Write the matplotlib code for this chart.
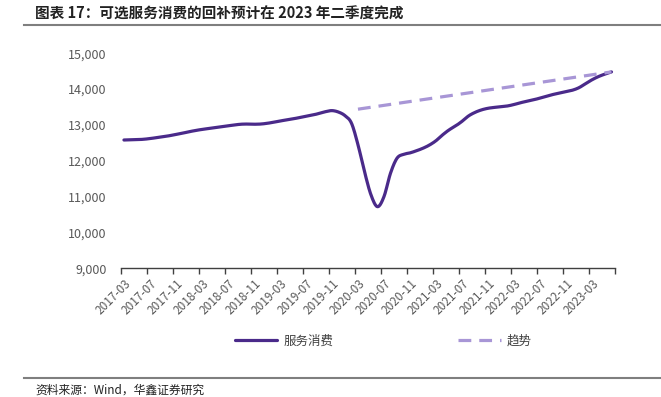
import numpy as np
import matplotlib
matplotlib.use('Agg')
import matplotlib.pyplot as plt
from matplotlib.lines import Line2D

plt.rcParams['font.family'] = ['Noto Sans CJK SC', 'DejaVu Sans']

# 服务消费, monthly from 2017-03 to 2023-06
service = [
    12580, 12585, 12590, 12600, 12620, 12645, 12670, 12700, 12735, 12770,
    12810, 12845, 12875, 12900, 12925, 12950, 12975, 13000, 13020, 13025,
    13020, 13025, 13045, 13075, 13110, 13140, 13170, 13205, 13240, 13275,
    13320, 13370, 13400, 13360, 13260, 13050, 12450, 11700, 11050, 10720,
    11000, 11650, 12070, 12180, 12220, 12280, 12350, 12440, 12560, 12720,
    12860, 12970, 13100, 13250, 13350, 13420, 13465, 13490, 13510, 13530,
    13570, 13620, 13660, 13700, 13750, 13800, 13850, 13890, 13930, 13970,
    14040, 14150, 14260, 14350, 14420, 14480,
]
# 趋势: straight line from 2020-03 to 2023-06
trend_idx = [36, 75]
trend = [13440, 14480]

tick_labels = [
    '2017-03', '2017-07', '2017-11', '2018-03', '2018-07', '2018-11',
    '2019-03', '2019-07', '2019-11', '2020-03', '2020-07', '2020-11',
    '2021-03', '2021-07', '2021-11', '2022-03', '2022-07', '2022-11',
    '2023-03',
]
y_ticks = [9000, 10000, 11000, 12000, 13000, 14000, 15000]

dark = '#4a2a8a'
light = '#a896d6'


def smooth(xs, ys, n=12):
    # catmull-rom curve through the points, like a smoothed excel line
    xs = np.asarray(xs, float)
    ys = np.asarray(ys, float)
    px = np.concatenate([[xs[0]], xs, [xs[-1]]])
    py = np.concatenate([[ys[0]], ys, [ys[-1]]])
    t = np.linspace(0, 1, n, endpoint=False)
    out_x, out_y = [], []
    for i in range(1, len(px) - 2):
        for p, o in ((px, out_x), (py, out_y)):
            p0, p1, p2, p3 = p[i - 1], p[i], p[i + 1], p[i + 2]
            o.extend(0.5 * (2 * p1 + (p2 - p0) * t
                            + (2 * p0 - 5 * p1 + 4 * p2 - p3) * t ** 2
                            + (3 * p1 - p0 - 3 * p2 + p3) * t ** 3))
    out_x.append(xs[-1])
    out_y.append(ys[-1])
    return out_x, out_y


fig = plt.figure(figsize=(6.61, 3.97), dpi=100)
ax = fig.add_axes([0.1826, 0.3242, 0.7474, 0.5416])

x = [i + 0.5 for i in range(len(service))]
sx, sy = smooth(x, service)
ax.plot(sx, sy, color=dark, lw=2.3, label='服务消费', solid_capstyle='round')
ax.plot([i + 0.5 for i in trend_idx], trend, color=light, lw=2.3,
        dashes=(4, 2.5), label='趋势')

ax.set_xlim(0, 76)
ax.set_ylim(9000, 15000)
ax.set_yticks(y_ticks)
ax.set_yticklabels([f'{v:,}' for v in y_ticks], color='#595959', fontsize=9)
ax.tick_params(axis='y', length=0, pad=10)

ax.set_xticks(range(0, 77, 4))
ax.set_xticklabels([])
ax.set_xticks([0.5 + 4 * k for k in range(len(tick_labels))], minor=True)
ax.set_xticklabels(tick_labels, minor=True, rotation=45, ha='right',
                   rotation_mode='anchor', color='#595959', fontsize=8.5)
ax.tick_params(axis='x', which='major', length=4, color='#404040', width=1)
ax.tick_params(axis='x', which='minor', length=0, pad=6)

for s in ['top', 'right', 'left']:
    ax.spines[s].set_visible(False)
ax.spines['bottom'].set_color('#404040')
ax.spines['bottom'].set_linewidth(1)

fig.legend(loc='center', bbox_to_anchor=(0.58, 1 - 341 / 397), ncol=2,
           frameon=False, fontsize=9, handlelength=3.4, handletextpad=0.5,
           columnspacing=10, labelcolor='#404040')

fig.text(35 / 661, 1 - 14 / 397, '图表 17：可选服务消费的回补预计在 2023 年二季度完成',
         fontsize=10.5, fontweight='bold', va='center', ha='left', color='#222222')
fig.text(35 / 661, 1 - 390 / 397, '资料来源：Wind，华鑫证券研究',
         fontsize=8.5, va='center', ha='left', color='#222222')

for yy in [1 - 25 / 397, 1 - 378 / 397]:
    fig.add_artist(Line2D([24 / 661, 1], [yy, yy], transform=fig.transFigure,
                          color='#7f7f7f', lw=1.5))

fig.savefig('out.png', dpi=100)
